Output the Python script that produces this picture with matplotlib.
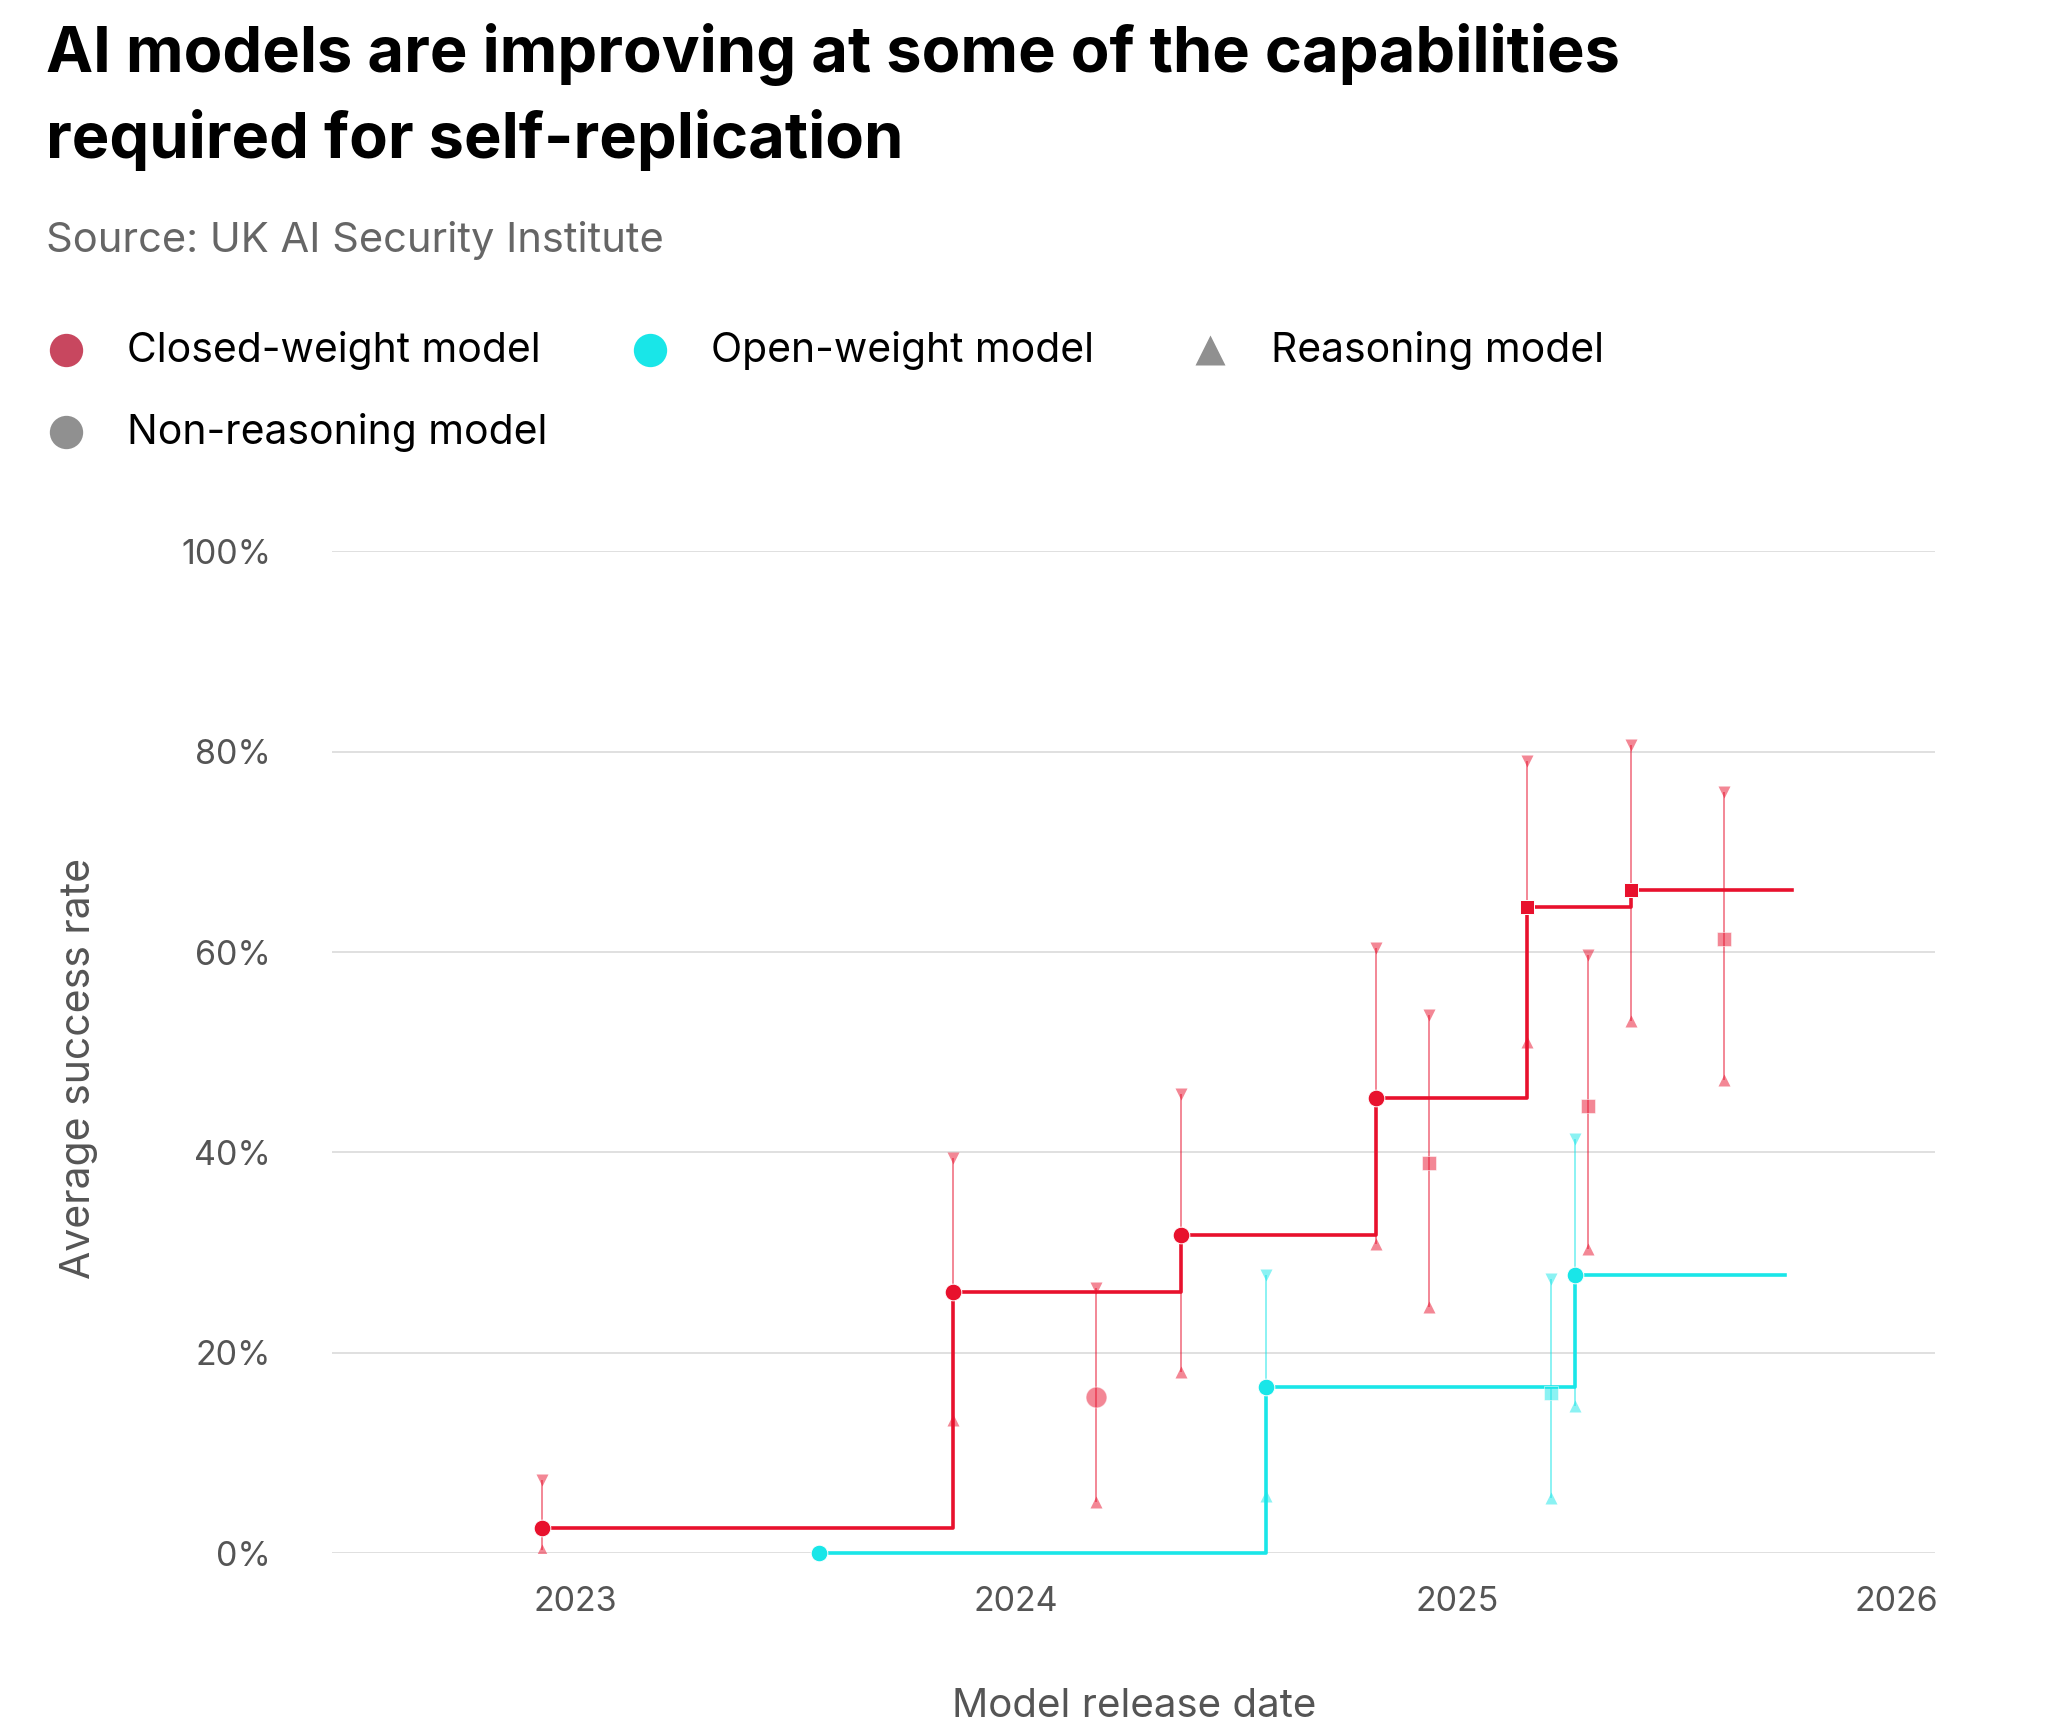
import matplotlib.pyplot as plt
import pandas as pd
from matplotlib.lines import Line2D

# frontier (step line) models, closed-weight
closed_dates = ["2022-12-04", "2023-11-10", "2024-05-17", "2024-10-26", "2025-02-28", "2025-05-26"]
closed_rate = [2.5, 26.1, 31.8, 45.4, 64.5, 66.2]
closed_lo = [0.3, 13.3, 18.1, 30.9, 51.0, 53.1]
closed_hi = [7.3, 39.4, 45.8, 60.4, 79.1, 80.7]
closed_marker = ["o", "o", "o", "o", "s", "s"]
closed_end = "2025-10-06"

# other closed-weight models (not on the frontier)
closed2_dates = ["2024-03-08", "2024-12-09", "2025-04-20", "2025-08-11"]
closed2_rate = [15.6, 38.9, 44.6, 61.3]
closed2_lo = [5.1, 24.6, 30.4, 47.2]
closed2_hi = [26.5, 53.7, 59.7, 76.0]
closed2_marker = ["o", "s", "s", "s"]

# frontier open-weight models
open_dates = ["2023-07-22", "2024-07-27", "2025-04-09"]
open_rate = [0.0, 16.6, 27.8]
open_lo = [0.0, 5.7, 14.7]
open_hi = [0.0, 27.8, 41.3]
open_marker = ["o", "o", "o"]
open_end = "2025-09-30"

open2_dates = ["2025-03-20"]
open2_rate = [16.0]
open2_lo = [5.5]
open2_hi = [27.4]
open2_marker = ["s"]

RED = "#E8112D"
CYAN = "#19E6E8"

plt.rcParams["font.family"] = ["Inter", "DejaVu Sans"]

fig = plt.figure(figsize=(20.48, 17.21), dpi=100)
ax = fig.add_axes([0.1622, 0.0976, 0.7827, 0.5820])


def error_bars(dates, lo, hi, color):
    for d, l, h in zip(pd.to_datetime(dates), lo, hi):
        if h - l <= 0:
            continue
        ax.plot([d, d], [l, h], color=color, lw=1.4, alpha=0.5, zorder=2, solid_capstyle="butt")
        ax.plot(d, h, marker="v", ms=8, color=color, alpha=0.5, mec="none", zorder=2)
        ax.plot(d, l, marker="^", ms=8, color=color, alpha=0.5, mec="none", zorder=2)


def points(dates, rate, markers, color, alpha, big=False):
    for d, r, m in zip(pd.to_datetime(dates), rate, markers):
        if m == "o":
            ms = 15 if big else 12
        else:
            ms = 10
        ax.plot(d, r, marker=m, ms=ms, color=color, alpha=alpha, mec="white", mew=0.7,
                zorder=4, clip_on=False)


def step_line(dates, rate, end, color):
    x = list(pd.to_datetime(dates)) + [pd.to_datetime(end)]
    y = list(rate) + [rate[-1]]
    ax.step(x, y, where="post", color=color, lw=2.6, zorder=3, clip_on=False)


error_bars(closed_dates, closed_lo, closed_hi, RED)
error_bars(closed2_dates, closed2_lo, closed2_hi, RED)
error_bars(open_dates, open_lo, open_hi, CYAN)
error_bars(open2_dates, open2_lo, open2_hi, CYAN)

step_line(closed_dates, closed_rate, closed_end, RED)
step_line(open_dates, open_rate, open_end, CYAN)

points(closed2_dates[:1], closed2_rate[:1], closed2_marker[:1], RED, 0.5, big=True)
points(closed2_dates[1:], closed2_rate[1:], closed2_marker[1:], RED, 0.5)
points(open2_dates, open2_rate, open2_marker, CYAN, 0.5)
points(closed_dates, closed_rate, closed_marker, RED, 1.0)
points(open_dates, open_rate, open_marker, CYAN, 1.0)

# axes styling
ax.set_ylim(0, 100)
ax.set_xlim(pd.to_datetime("2022-06-13"), pd.to_datetime("2026-02-02"))
ax.set_yticks([0, 20, 40, 60, 80, 100])
ax.set_yticklabels(["0%", "20%", "40%", "60%", "80%", "100%"])
years = ["2023", "2024", "2025", "2026"]
ax.set_xticks(pd.to_datetime([y + "-01-01" for y in years]))
ax.set_xticklabels(years)
ax.grid(axis="y", color="#DDDDDD", lw=1.3)
ax.set_axisbelow(True)
for s in ax.spines.values():
    s.set_visible(False)
ax.tick_params(axis="both", length=0, labelsize=24.5, labelcolor="#555555")
ax.tick_params(axis="y", pad=44)
ax.tick_params(axis="x", pad=24)

# axis titles placed in figure coordinates
fig.text(1134 / 2048, 4 / 1721, "Model release date", fontsize=29, color="#555555",
         ha="center", va="baseline")
fig.text(79 / 2048, 1 - 1068 / 1721, "Average success rate", fontsize=29.5, color="#555555",
         ha="center", va="center", rotation=90)

# title and subtitle
fig.text(46 / 2048, 1 - 72 / 1721, "AI models are improving at some of the capabilities",
         fontsize=45.5, fontweight="bold", color="black", va="baseline")
fig.text(46 / 2048, 1 - 158 / 1721, "required for self-replication",
         fontsize=45.5, fontweight="bold", color="black", va="baseline")
fig.text(46 / 2048, 1 - 252 / 1721, "Source: UK AI Security Institute",
         fontsize=30, color="#666666", va="baseline")

# legend
legend_items = [
    (66, 350, "o", "#C8475F", "Closed-weight model"),
    (650, 350, "o", CYAN, "Open-weight model"),
    (1210, 350, "^", "#909090", "Reasoning model"),
    (66, 432, "o", "#909090", "Non-reasoning model"),
]
for x, y, m, c, label in legend_items:
    fig.add_artist(Line2D([x / 2048], [1 - y / 1721], marker=m, ms=24 if m == "o" else 22,
                          color=c, mec="none", linestyle="none", transform=fig.transFigure))
    fig.text((x + 61) / 2048, 1 - y / 1721, label, fontsize=29.4, color="black", va="center")

fig.savefig("out.png", dpi=100)
